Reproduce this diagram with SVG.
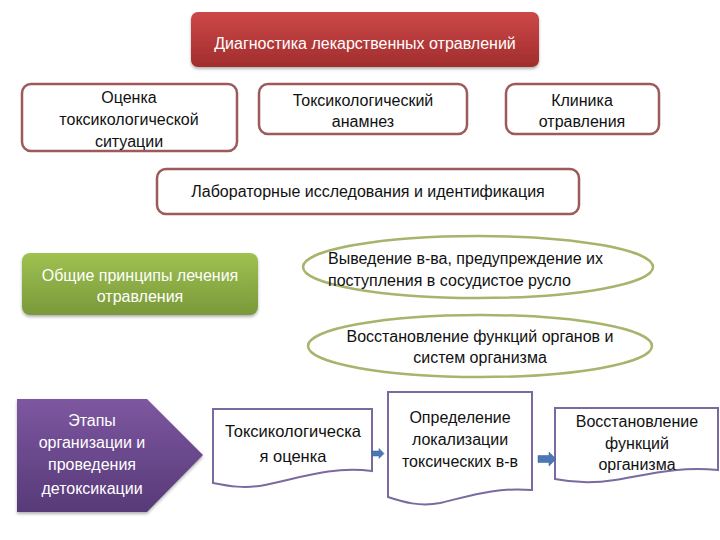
<svg xmlns="http://www.w3.org/2000/svg" width="720" height="540" viewBox="0 0 720 540">
<defs>
<linearGradient id="gRed" x1="0" y1="0" x2="0" y2="1"><stop offset="0" stop-color="#cd4848"/><stop offset="1" stop-color="#a12d2d"/></linearGradient>
<linearGradient id="gGreen" x1="0" y1="0" x2="0" y2="1"><stop offset="0" stop-color="#9fc150"/><stop offset="1" stop-color="#79993a"/></linearGradient>
<linearGradient id="gPurple" x1="0" y1="0" x2="0" y2="1"><stop offset="0" stop-color="#7d57a0"/><stop offset="1" stop-color="#573a78"/></linearGradient>
<filter id="sh" x="-10%" y="-10%" width="120%" height="130%"><feDropShadow dx="0" dy="2" stdDeviation="1.5" flood-color="#000" flood-opacity="0.3"/></filter>
</defs>
<style>
text{font-family:"Liberation Sans",Arial,sans-serif;font-size:16px;text-anchor:middle;fill:#111}
.w{fill:#fff}
.box{fill:#fff;stroke:#9e5a5a;stroke-width:2.5}
.ell{fill:#fff;stroke:#a6b46c;stroke-width:2.5}
.doc{fill:#fff;stroke:#7a6aa0;stroke-width:2}
.arr{fill:#4a78b4;stroke:#3a6090;stroke-width:0.5}
</style>
<rect width="720" height="540" fill="#fff"/>
<g id="diag">
<rect x="191" y="12" width="348" height="55" rx="7" fill="url(#gRed)" filter="url(#sh)"/>
<text class="w" x="365" y="49">Диагностика лекарственных отравлений</text>
</g>
<g id="situation">
<rect class="box" x="22" y="84" width="215" height="67" rx="9"/>
<text x="129" y="103">Оценка</text>
<text x="129" y="125">токсикологической</text>
<text x="129" y="147">ситуации</text>
</g>
<g id="anamnesis">
<rect class="box" x="259" y="84" width="208" height="50" rx="9"/>
<text x="363" y="106">Токсикологический</text>
<text x="363" y="127">анамнез</text>
</g>
<g id="clinic">
<rect class="box" x="506" y="84" width="153" height="50" rx="9"/>
<text x="582" y="106">Клиника</text>
<text x="582" y="127">отравления</text>
</g>
<g id="lab">
<rect class="box" x="157" y="169" width="422" height="45" rx="9"/>
<text x="368" y="197">Лабораторные исследования и идентификация</text>
</g>
<g id="principles">
<rect x="22" y="253" width="236" height="62" rx="8" fill="url(#gGreen)" filter="url(#sh)"/>
<text class="w" x="140" y="281">Общие принципы лечения</text>
<text class="w" x="140" y="302">отравления</text>
</g>
<g id="removal">
<ellipse class="ell" cx="478" cy="267" rx="175" ry="31"/>
<text x="328" y="264" style="text-anchor:start">Выведение в-ва, предупреждение их</text>
<text x="328" y="286" style="text-anchor:start">поступления в сосудистое русло</text>
</g>
<g id="restore-organs">
<ellipse class="ell" cx="480" cy="346" rx="172" ry="31"/>
<text x="480" y="342">Восстановление функций органов и</text>
<text x="480" y="363">систем организма</text>
</g>
<g id="stages">
<polygon points="17,399 147,399 203,455 147,512 17,512" fill="url(#gPurple)" filter="url(#sh)"/>
<text class="w" x="92" y="426">Этапы</text>
<text class="w" x="92" y="448">организации и</text>
<text class="w" x="92" y="470">проведения</text>
<text class="w" x="92" y="494">детоксикации</text>
</g>
<g id="tox-eval">
<path class="doc" d="M213,409 L372,409 L372,471 C330,466 300,478 265,485 C245,489 228,486 213,483 Z"/>
<text x="293" y="437" style="font-size:16.5px">Токсикологическа</text>
<text x="293" y="462" style="font-size:16.5px">я оценка</text>
</g>
<g id="localization">
<path class="doc" d="M388,392 L532,392 L532,490 C495,487 470,496 440,503 C420,507 403,502 388,497 Z"/>
<text x="460" y="423">Определение</text>
<text x="460" y="445">локализации</text>
<text x="460" y="467">токсических в-в</text>
</g>
<g id="restore-func">
<path class="doc" d="M555,408 L718,408 L718,470 C680,466 650,474 615,480 C590,484 570,482 555,479 Z"/>
<text x="637" y="427">Восстановление</text>
<text x="637" y="449">функций</text>
<text x="637" y="470">организма</text>
</g>
<g id="connectors">
<polygon class="arr" points="372,451 379,451 379,448.5 384,453.5 379,458.5 379,456 372,456"/>
<polygon class="arr" points="538,455.5 549,455.5 549,452 556,459 549,466 549,462.5 538,462.5"/>
</g>
</svg>
